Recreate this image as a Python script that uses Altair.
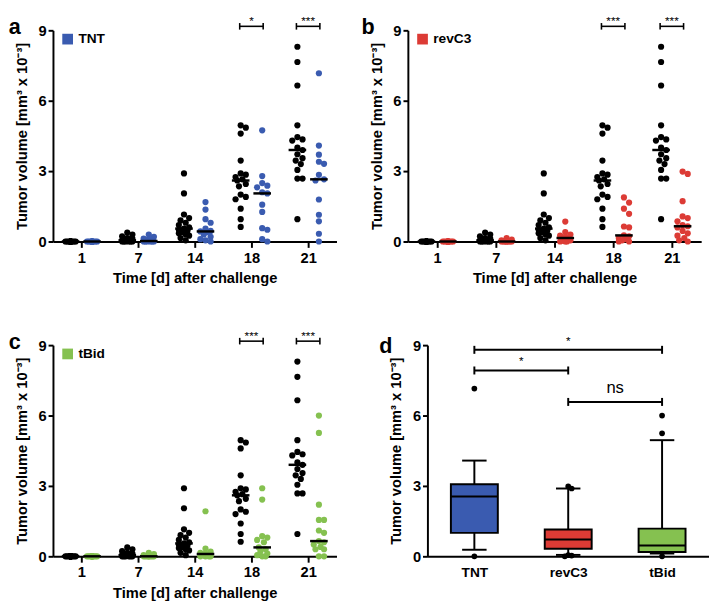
import altair as alt
import pandas as pd
import numpy as np

# ---------------- data ----------------
DAYS = [1, 7, 14, 18, 21]

CONTROL_D1 = [0.0] * 17
CONTROL_D7 = [0.38, 0.3, 0.22, 0.15, 0.12, 0.1, 0.08, 0.05, 0.05, 0.03, 0.02, 0.0, 0.0, 0.0, 0.0, 0.0, 0.0]
CONTROL_D14 = [2.9, 2.05, 1.15, 1.0, 0.9, 0.8, 0.7, 0.6, 0.55, 0.5, 0.45, 0.4, 0.35, 0.3, 0.25, 0.15, 0.05]
CONTROL_D18 = [4.95, 4.85, 4.6, 3.45, 2.9, 2.85, 2.75, 2.65, 2.6, 2.45, 2.35, 2.0, 1.9, 1.8, 1.4, 0.95, 0.62]
CONTROL_D21 = [8.3, 7.65, 6.65, 4.95, 4.45, 4.35, 4.3, 4.0, 3.9, 3.72, 3.55, 3.45, 3.3, 3.05, 2.68, 2.68, 0.95]
CONTROL = [CONTROL_D1, CONTROL_D7, CONTROL_D14, CONTROL_D18, CONTROL_D21]

TNT_D1 = [0.0] * 13
TNT_D7 = [0.3, 0.2, 0.12, 0.1, 0.05, 0.05, 0.02, 0.0, 0.0, 0.0, 0.0, 0.0, 0.0]
TNT_D14 = [1.68, 1.36, 0.95, 0.8, 0.55, 0.45, 0.43, 0.4, 0.3, 0.2, 0.1, 0.05, 0.0]
TNT_D18 = [4.74, 2.79, 2.49, 2.38, 2.31, 2.1, 2.05, 1.57, 1.26, 0.57, 0.5, 0.1, 0.0]
TNT_D21 = [7.17, 4.09, 3.7, 3.4, 3.31, 2.84, 2.65, 2.6, 1.79, 1.14, 0.86, 0.33, 0.0]
TNT = [TNT_D1, TNT_D7, TNT_D14, TNT_D18, TNT_D21]

REVC3_D1 = [0.0] * 13
REVC3_D7 = [0.15, 0.08, 0.05, 0.03, 0.02, 0.0, 0.0, 0.0, 0.0, 0.0, 0.0, 0.0, 0.0]
REVC3_D14 = [0.85, 0.4, 0.3, 0.25, 0.2, 0.18, 0.15, 0.1, 0.05, 0.03, 0.0, 0.0, 0.0]
REVC3_D18 = [1.88, 1.66, 1.4, 1.18, 0.64, 0.6, 0.26, 0.22, 0.15, 0.1, 0.05, 0.0, 0.0]
REVC3_D21 = [2.98, 2.88, 1.72, 1.07, 1.0, 0.86, 0.7, 0.65, 0.6, 0.45, 0.35, 0.25, 0.15, 0.05, 0.0]
REVC3 = [REVC3_D1, REVC3_D7, REVC3_D14, REVC3_D18, REVC3_D21]

TBID_D1 = [0.0] * 13
TBID_D7 = [0.15, 0.1, 0.05, 0.03, 0.02, 0.0, 0.0, 0.0, 0.0, 0.0, 0.0, 0.0, 0.0]
TBID_D14 = [1.92, 0.33, 0.2, 0.15, 0.12, 0.1, 0.1, 0.05, 0.03, 0.0, 0.0, 0.0, 0.0]
TBID_D18 = [2.9, 2.42, 0.86, 0.8, 0.7, 0.6, 0.38, 0.3, 0.22, 0.12, 0.05, 0.0, 0.0]
TBID_D21 = [6.0, 5.26, 2.2, 1.55, 1.55, 1.1, 1.0, 0.65, 0.6, 0.5, 0.4, 0.3, 0.3, 0.0, 0.0]
TBID = [TBID_D1, TBID_D7, TBID_D14, TBID_D18, TBID_D21]

SIG_A = ["*", "***"]      # day 18, day 21
SIG_B = ["***", "***"]
SIG_C = ["***", "***"]

BOX_GROUPS = ["TNT", "revC3", "tBid"]
BOX_LOW = [0.28, 0.06, 0.12]
BOX_Q1 = [1.0, 0.32, 0.18]
BOX_MED = [2.55, 0.72, 0.46]
BOX_Q3 = [3.07, 1.14, 1.18]
BOX_HIGH = [4.08, 2.89, 4.95]
OUT_TNT = [7.15, 0.0]
OUT_REVC3 = [2.98, 2.89, 0.05, 0.03, 0.0]
OUT_TBID = [6.0, 5.24, 0.0]

D_SIG_FROM = [0, 0, 1]
D_SIG_TO = [2, 1, 2]
D_SIG_LABEL = ["*", "*", "ns"]

# ---------------- styling / layout ----------------
COLORS = {"TNT": "#3a5bb0", "revC3": "#dc3b35", "tBid": "#85c150"}
FONT = "Liberation Sans"
H = 216
PX_Y = H / 9.0          # px per y unit
GROUP_OFF = 11.0        # px offset of control / treatment columns
MED_HALF = 9.0          # half length of median bar, px
BR_Y = 9.17             # bracket level (data units, above axis top)
Y_TITLE = "Tumor volume [mm\u00b3 x 10\u207b\u00b3]"


def swarm(values, max_off=5.25, step=1.75, diam=6.5):
    order = sorted(range(len(values)), key=lambda i: -values[i])
    cands = [0.0]
    k = 1
    while k * step <= max_off + 1e-9:
        cands += [k * step, -k * step]
        k += 1
    placed, offs = [], [0.0] * len(values)
    for i in order:
        y = values[i] * PX_Y
        best, bestd = 0.0, -1.0
        for c in cands:
            dmin = min([np.hypot(c - px, y - py) for px, py in placed], default=1e9)
            if dmin >= diam:
                best = c
                break
            if dmin > bestd:
                bestd, best = dmin, c
        offs[i] = best
        placed.append((best, y))
    return offs


def y_axis():
    return alt.Axis(values=[0, 3, 6, 9], title=Y_TITLE, grid=False,
                    labelFontSize=15, labelFontWeight="bold", titleFontSize=15,
                    titleFontWeight="bold", domainWidth=2, domainColor="black",
                    tickWidth=2, tickColor="black", tickSize=5, labelPadding=2,
                    titlePadding=9, labelColor="black", titleColor="black")


def panel_title(letter, dx):
    return alt.TitleParams(letter, anchor="start", frame="bounds", fontSize=22,
                           fontWeight="bold", font=FONT, offset=-24, dx=dx, color="black")


def scatter_panel(letter, name, treat, sig, dx, width):
    px_x = width / 5.0
    rows = []
    for i, day in enumerate(DAYS):
        for side, grp, vals in [(-1, "Control", CONTROL[i]), (1, name, treat[i])]:
            offs = swarm(vals)
            for v, o in zip(vals, offs):
                rows.append(dict(idx=i, day=day, grp=grp, side=side, value=v,
                                 xpos=i + (side * GROUP_OFF + o) / px_x))
    df = pd.DataFrame(rows)
    labels = "[" + ",".join("'%d'" % d for d in DAYS) + "][datum.value]"
    xs = alt.Scale(domain=[-0.5, 4.5], nice=False, zero=False)
    ys = alt.Scale(domain=[0, 9], nice=False)
    xaxis = alt.Axis(values=[0, 1, 2, 3, 4], labelExpr=labels,
                     title="Time [d] after challenge", grid=False,
                     labelFontSize=15, labelFontWeight="bold", titleFontSize=15,
                     titleFontWeight="bold", domainWidth=2, domainColor="black",
                     tickWidth=2, tickColor="black", tickSize=6, labelPadding=3,
                     titlePadding=6, labelColor="black", titleColor="black")
    base = alt.Chart(df)
    treat_pts = base.transform_filter("datum.side > 0").mark_circle(size=40, opacity=1).encode(
        x=alt.X("xpos:Q", scale=xs, axis=xaxis),
        y=alt.Y("value:Q", scale=ys, axis=y_axis()),
        color=alt.Color("grp:N", scale=alt.Scale(domain=[name], range=[COLORS[name]]),
                        legend=alt.Legend(title=None, orient="none", legendX=8, legendY=2,
                                          symbolType="square", symbolSize=120,
                                          labelFontSize=14, labelFontWeight="bold",
                                          labelFont=FONT, labelColor="black", padding=0,
                                          symbolStrokeWidth=0, symbolOpacity=1)))
    ctrl_pts = base.transform_filter("datum.side < 0").mark_circle(size=40, opacity=1, color="black").encode(
        x=alt.X("xpos:Q", scale=xs),
        y=alt.Y("value:Q", scale=ys))
    med = base.transform_aggregate(med="median(value)", groupby=["idx", "side"]).transform_calculate(
        x1="datum.idx + (datum.side*%f - %f)/%f" % (GROUP_OFF, MED_HALF, px_x),
        x2="datum.idx + (datum.side*%f + %f)/%f" % (GROUP_OFF, MED_HALF, px_x),
    ).mark_rule(color="black", strokeWidth=2.5).encode(
        x=alt.X("x1:Q", scale=xs), x2="x2:Q",
        y=alt.Y("med:Q", scale=ys))

    br = pd.DataFrame({"idx": [3, 4], "label": sig})
    bbase = alt.Chart(br).transform_calculate(
        x1="datum.idx - %f" % (12.0 / px_x), x2="datum.idx + %f" % (12.0 / px_x),
        yb="%f" % BR_Y, yc1="%f" % (BR_Y - 0.14), yc2="%f" % (BR_Y + 0.14), yt="%f" % (BR_Y - 0.08))
    hl = bbase.mark_rule(color="black", strokeWidth=1.6).encode(
        x=alt.X("x1:Q", scale=xs), x2="x2:Q", y=alt.Y("yb:Q", scale=ys))
    c1 = bbase.mark_rule(color="black", strokeWidth=1.6).encode(
        x=alt.X("x1:Q", scale=xs), y=alt.Y("yc1:Q", scale=ys), y2="yc2:Q")
    c2 = bbase.mark_rule(color="black", strokeWidth=1.6).encode(
        x=alt.X("x2:Q", scale=xs), y=alt.Y("yc1:Q", scale=ys), y2="yc2:Q")
    tx = bbase.mark_text(fontSize=12, font=FONT, baseline="bottom", color="black").encode(
        x=alt.X("idx:Q", scale=xs), y=alt.Y("yt:Q", scale=ys), text="label:N")

    return alt.layer(treat_pts, ctrl_pts, med, hl, c1, c2, tx).properties(
        width=width, height=H, title=panel_title(letter, dx))


def box_panel(dx, width):
    px_x = width / 3.0
    df = pd.DataFrame({"idx": [0, 1, 2], "grp": BOX_GROUPS, "low": BOX_LOW, "q1": BOX_Q1,
                       "med": BOX_MED, "q3": BOX_Q3, "high": BOX_HIGH})
    orows = []
    for i, (g, vals) in enumerate(zip(BOX_GROUPS, [OUT_TNT, OUT_REVC3, OUT_TBID])):
        for v, o in zip(vals, swarm(vals, max_off=3.5, step=3.5)):
            orows.append(dict(grp=g, value=v, xpos=i + o / px_x))
    odf = pd.DataFrame(orows)
    xs = alt.Scale(domain=[-0.5, 2.5], nice=False, zero=False)
    ys = alt.Scale(domain=[0, 9], nice=False)
    labels = "[" + ",".join("'%s'" % g for g in BOX_GROUPS) + "][datum.value]"
    xaxis = alt.Axis(values=[0, 1, 2], labelExpr=labels, title=None, grid=False, ticks=False,
                     labelFontSize=14, labelFontWeight="bold", domainWidth=2, domainColor="black",
                     labelPadding=10, labelColor="black")
    bw = 0.25
    cw = 12.5 / px_x
    base = alt.Chart(df).transform_calculate(
        bx1="datum.idx - %f" % bw, bx2="datum.idx + %f" % bw,
        cx1="datum.idx - %f" % cw, cx2="datum.idx + %f" % cw)
    wh_up = base.mark_rule(color="black", strokeWidth=2).encode(
        x=alt.X("idx:Q", scale=xs, axis=xaxis), y=alt.Y("q3:Q", scale=ys, axis=y_axis()), y2="high:Q")
    wh_lo = base.mark_rule(color="black", strokeWidth=2).encode(
        x=alt.X("idx:Q", scale=xs), y=alt.Y("low:Q", scale=ys), y2="q1:Q")
    box = base.mark_bar(stroke="black", strokeWidth=2, opacity=1).encode(
        x=alt.X("bx1:Q", scale=xs), x2="bx2:Q",
        y=alt.Y("q1:Q", scale=ys), y2="q3:Q",
        color=alt.Color("grp:N", scale=alt.Scale(domain=BOX_GROUPS, range=[COLORS[g] for g in BOX_GROUPS]),
                        legend=None))
    medr = base.mark_rule(color="black", strokeWidth=2).encode(
        x=alt.X("bx1:Q", scale=xs), x2="bx2:Q", y=alt.Y("med:Q", scale=ys))
    cap_hi = base.mark_rule(color="black", strokeWidth=2).encode(
        x=alt.X("cx1:Q", scale=xs), x2="cx2:Q", y=alt.Y("high:Q", scale=ys))
    cap_lo = base.mark_rule(color="black", strokeWidth=2).encode(
        x=alt.X("cx1:Q", scale=xs), x2="cx2:Q", y=alt.Y("low:Q", scale=ys))
    outs = alt.Chart(odf).mark_circle(size=34, color="black", opacity=1).encode(
        x=alt.X("xpos:Q", scale=xs), y=alt.Y("value:Q", scale=ys))

    levels = [8.8, 7.92, 6.58]
    sdf = pd.DataFrame({"a": D_SIG_FROM, "b": D_SIG_TO, "label": D_SIG_LABEL, "lev": levels})
    sb = alt.Chart(sdf).transform_calculate(
        mid="(datum.a + datum.b)/2", c1="datum.lev - 0.17", c2="datum.lev + 0.17",
        ty="datum.lev + (datum.label == 'ns' ? 0.2 : 0.1)")
    s_h = sb.mark_rule(color="black", strokeWidth=2).encode(
        x=alt.X("a:Q", scale=xs), x2="b:Q", y=alt.Y("lev:Q", scale=ys))
    s_c1 = sb.mark_rule(color="black", strokeWidth=2).encode(
        x=alt.X("a:Q", scale=xs), y=alt.Y("c1:Q", scale=ys), y2="c2:Q")
    s_c2 = sb.mark_rule(color="black", strokeWidth=2).encode(
        x=alt.X("b:Q", scale=xs), y=alt.Y("c1:Q", scale=ys), y2="c2:Q")
    s_t = sb.mark_text(font=FONT, baseline="bottom", color="black").encode(
        x=alt.X("mid:Q", scale=xs), y=alt.Y("ty:Q", scale=ys), text="label:N",
        size=alt.condition("datum.label == 'ns'", alt.value(17), alt.value(12)))
    return alt.layer(wh_up, wh_lo, box, medr, cap_hi, cap_lo, outs, s_h, s_c1, s_c2, s_t).properties(
        width=width, height=H, title=panel_title("d", dx))


pa = scatter_panel("a", "TNT", TNT, SIG_A, -6, 290)
pb = scatter_panel("b", "revC3", REVC3, SIG_B, -8, 300)
pc = scatter_panel("c", "tBid", TBID, SIG_C, -6, 290)
pd_ = box_panel(-10, 288)

row1 = alt.hconcat(pa, pb, spacing=25).resolve_scale(color="independent")
row2 = alt.hconcat(pc, pd_, spacing=43).resolve_scale(color="independent")
chart = alt.vconcat(row1, row2, spacing=45).resolve_scale(color="independent").properties(
    padding={"top": 0, "left": 0, "right": 0, "bottom": 0}).configure(
    font=FONT, view=alt.ViewConfig(stroke=None)).configure_axis(labelFont=FONT, titleFont=FONT)

chart.save("out.html", embed_options={"renderer": "svg", "actions": False})
